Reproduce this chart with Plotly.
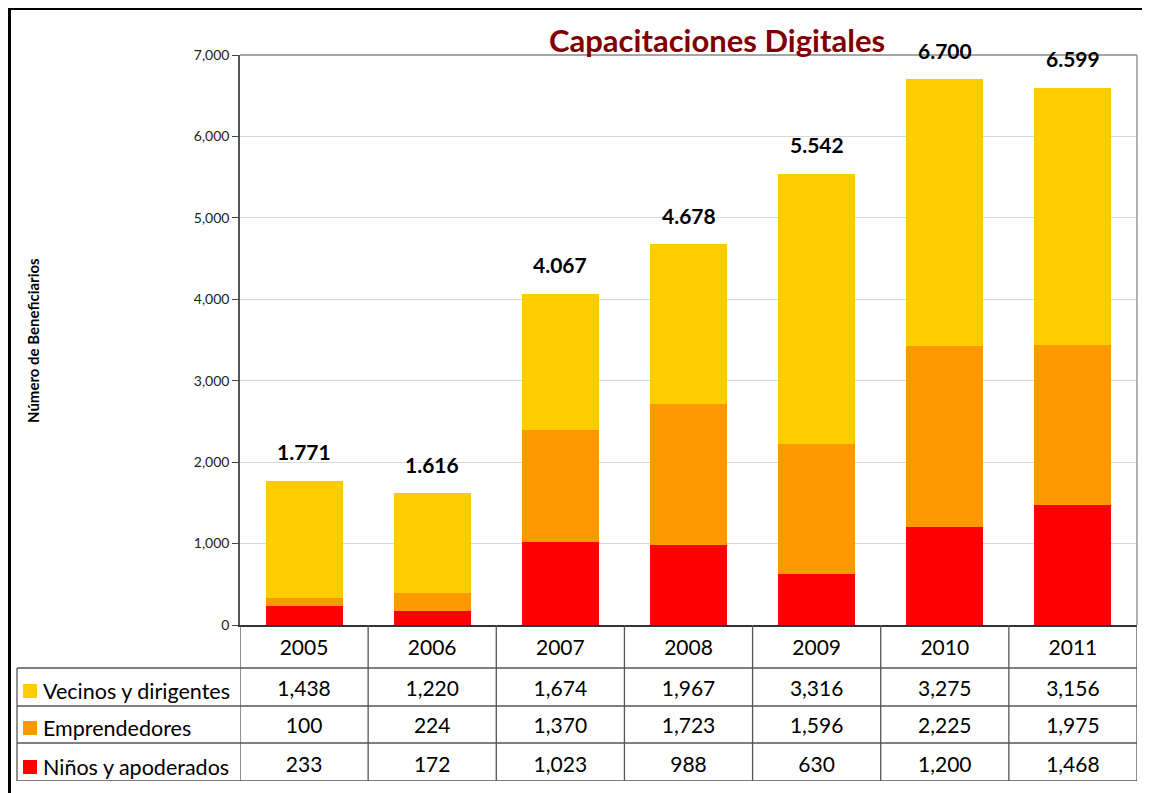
import plotly.graph_objects as go

years = ["2005", "2006", "2007", "2008", "2009", "2010", "2011"]
series_names = ["Vecinos y dirigentes", "Emprendedores", "Niños y apoderados"]
vecinos = [1438, 1220, 1674, 1967, 3316, 3275, 3156]
emprendedores = [100, 224, 1370, 1723, 1596, 2225, 1975]
ninos = [233, 172, 1023, 988, 630, 1200, 1468]
y_ticks = [0, 1000, 2000, 3000, 4000, 5000, 6000, 7000]

colors = {"Vecinos y dirigentes": "#FFCC00", "Emprendedores": "#FF9900", "Niños y apoderados": "#FF0000"}
values = {"Vecinos y dirigentes": vecinos, "Emprendedores": emprendedores, "Niños y apoderados": ninos}
totals = [a + b + c for a, b, c in zip(vecinos, emprendedores, ninos)]

FONT = "Lato"
OFF = 8  # page body margin
W, H = 1142, 793
ML, MR, MT, MB = 232, 13, 47, 20
PW, PH = W - ML - MR, H - MT - MB
TABLE_H = 156
split = TABLE_H / PH

def px_x(x):
    return (x - OFF - ML) / PW

def py(y):
    return (H - MB - (y - OFF)) / PH

fig = go.Figure()

# stacked bars (bottom to top)
for name in ["Niños y apoderados", "Emprendedores", "Vecinos y dirigentes"]:
    fig.add_trace(go.Bar(x=years, y=values[name], name=name, marker_color=colors[name],
                         marker_line_width=0, width=0.6, xaxis="x", yaxis="y",
                         showlegend=False, hoverinfo="y+name"))

# totals
for i, t in enumerate(totals):
    fig.add_annotation(x=i, y=t, xref="x", yref="y", text=f"<b>{t:,}</b>".replace(",", "."),
                       showarrow=False, yanchor="middle", yshift=29,
                       font=dict(family=FONT, size=21, color="#000"))

# table text
row_y = {"header": 25, "Vecinos y dirigentes": 66, "Emprendedores": 103, "Niños y apoderados": 142}
tx, ty, tt = [], [], []
for i, yr in enumerate(years):
    tx.append(yr); ty.append(row_y["header"]); tt.append(yr)
    for name in series_names:
        tx.append(yr); ty.append(row_y[name]); tt.append(f"{values[name][i]:,}")
fig.add_trace(go.Scatter(x=tx, y=ty, text=tt, mode="text", xaxis="x2", yaxis="y2",
                         textfont=dict(family=FONT, size=21, color="#000"),
                         showlegend=False, hoverinfo="skip"))

shapes = []
LINE = dict(color="#555555", width=1.3)
# horizontal table lines
for yy in [43, 81, 118, TABLE_H]:
    shapes.append(dict(type="line", xref="paper", yref="y2", x0=px_x(17), x1=1, y0=yy, y1=yy, line=LINE))
# vertical lines at category boundaries
for k in range(len(years) + 1):
    shapes.append(dict(type="line", xref="x2", yref="y2", x0=k - 0.5, x1=k - 0.5, y0=0, y1=TABLE_H, line=LINE))
shapes.append(dict(type="line", xref="paper", yref="y2", x0=px_x(17), x1=px_x(17), y0=43, y1=TABLE_H, line=LINE))
# legend keys and row labels
for name in series_names:
    yc = row_y[name]
    shapes.append(dict(type="rect", xref="paper", yref="y2", x0=px_x(23), x1=px_x(37),
                       y0=yc - 7, y1=yc + 7, fillcolor=colors[name], line_width=0))
    fig.add_annotation(x=px_x(41), y=yc, xref="paper", yref="y2", text=name, showarrow=False,
                       xanchor="left", yanchor="middle", font=dict(family=FONT, size=21.5, color="#000"))

# outer frame (top and left)
shapes.append(dict(type="line", xref="paper", yref="paper", x0=px_x(9.5), x1=px_x(1160), y0=py(8.5), y1=py(8.5),
                   line=dict(color="#000", width=3)))
shapes.append(dict(type="line", xref="paper", yref="paper", x0=px_x(9.5), x1=px_x(9.5), y0=py(7), y1=py(810),
                   line=dict(color="#000", width=3)))
# plot area top/right border
shapes.append(dict(type="line", xref="paper", yref="paper", x0=0, x1=1, y0=1, y1=1, line=dict(color="#888", width=1.3)))
shapes.append(dict(type="line", xref="paper", yref="paper", x0=1, x1=1, y0=split, y1=1, line=dict(color="#888", width=1.3)))

fig.add_annotation(x=px_x(717), y=py(40), xref="paper", yref="paper", text="<b>Capacitaciones Digitales</b>",
                   showarrow=False, xanchor="center", yanchor="middle",
                   font=dict(family=FONT, size=31, color="#800000"))
fig.add_annotation(x=px_x(33), y=py(341), xref="paper", yref="paper", text="<b>Número de Beneficiarios</b>",
                   showarrow=False, textangle=-90, xanchor="center", yanchor="middle",
                   font=dict(family=FONT, size=15, color="#000"))

fig.update_layout(
    width=W, height=H, margin=dict(l=ML, r=MR, t=MT, b=MB),
    paper_bgcolor="white", plot_bgcolor="white", barmode="stack",
    shapes=shapes, showlegend=False,
    xaxis=dict(domain=[0, 1], anchor="y", type="category", range=[-0.5, 6.5], showticklabels=False, ticks="",
               showgrid=False, showline=True, linecolor="#333", linewidth=1.5, zeroline=False),
    yaxis=dict(domain=[split, 1], anchor="x", range=[0, 7000], tickvals=y_ticks, tickformat=",d",
               ticks="outside", ticklen=6, tickcolor="#444", showline=True, linecolor="#555", linewidth=1.5,
               gridcolor="#D9D9D9", gridwidth=1, zeroline=False,
               tickfont=dict(family=FONT, size=14, color="#222")),
    xaxis2=dict(domain=[0, 1], anchor="y2", type="category", matches="x", range=[-0.5, 6.5], visible=False),
    yaxis2=dict(domain=[0, split], anchor="x2", range=[TABLE_H, 0], visible=False),
)

fig.write_html("out.html")
